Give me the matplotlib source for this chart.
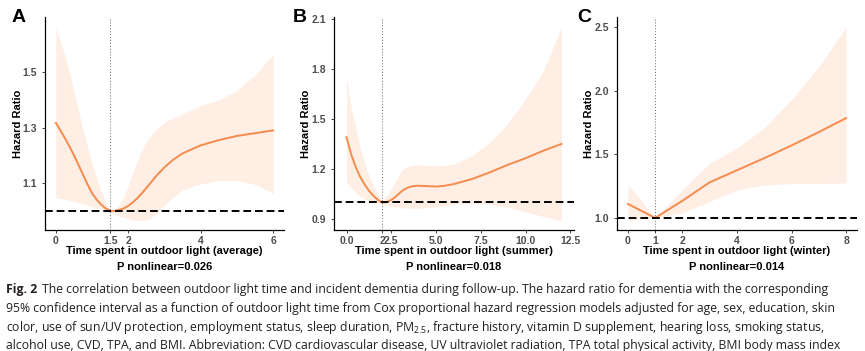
import matplotlib
matplotlib.use("Agg")
import matplotlib.pyplot as plt

plt.rcParams['font.family'] = ['Liberation Sans', 'DejaVu Sans']
plt.rcParams['mathtext.fontset'] = 'custom'
plt.rcParams['mathtext.rm'] = 'Open Sans'

# Panel A: average outdoor light time
x_avg = [0, 0.125, 0.25, 0.375, 0.5, 0.625, 0.75, 0.875, 1.0, 1.125, 1.25, 1.375, 1.5, 1.625,
         1.75, 1.875, 2.0, 2.125, 2.25, 2.375, 2.5, 2.75, 3.0, 3.25, 3.5, 4.0, 4.5, 5.0, 5.5, 6.0]
hr_avg = [1.317, 1.29, 1.262, 1.232, 1.20, 1.165, 1.13, 1.095, 1.063, 1.04, 1.022, 1.008, 1.0, 0.999,
          1.003, 1.008, 1.017, 1.03, 1.045, 1.063, 1.082, 1.122, 1.157, 1.185, 1.207, 1.236, 1.255, 1.27, 1.28, 1.29]
lo_avg = [1.047, 1.044, 1.04, 1.037, 1.033, 1.029, 1.024, 1.02, 1.015, 1.01, 1.005, 1.0, 0.995, 0.988,
          0.98, 0.975, 0.97, 0.967, 0.965, 0.964, 0.966, 0.985, 1.02, 1.05, 1.075, 1.097, 1.108, 1.108, 1.095, 1.062]
hi_avg = [1.66, 1.61, 1.56, 1.50, 1.43, 1.36, 1.29, 1.23, 1.17, 1.12, 1.07, 1.03, 1.0, 1.005,
          1.02, 1.05, 1.09, 1.14, 1.18, 1.22, 1.25, 1.29, 1.32, 1.335, 1.35, 1.38, 1.40, 1.435, 1.49, 1.565]

# Panel B: summer
x_sum = [0, 0.25, 0.5, 0.75, 1.0, 1.25, 1.5, 1.75, 2.0, 2.25, 2.5, 2.75, 3.0, 3.25, 3.5, 3.75,
         4.0, 4.5, 5.0, 5.5, 6.0, 7.0, 8.0, 9.0, 10.0, 11.0, 12.0]
hr_sum = [1.39, 1.29, 1.215, 1.155, 1.11, 1.07, 1.04, 1.015, 1.0, 1.002, 1.015, 1.035, 1.06, 1.08, 1.092, 1.098,
          1.10, 1.098, 1.095, 1.10, 1.11, 1.14, 1.18, 1.225, 1.265, 1.31, 1.35]
lo_sum = [1.124, 1.09, 1.06, 1.04, 1.02, 1.008, 1.0, 0.995, 0.99, 0.982, 0.975, 0.972, 0.97, 0.967, 0.965, 0.965,
          0.965, 0.968, 0.975, 0.982, 0.99, 0.995, 0.99, 0.97, 0.945, 0.915, 0.89]
hi_sum = [1.74, 1.58, 1.45, 1.33, 1.24, 1.16, 1.10, 1.05, 1.01, 1.04, 1.08, 1.13, 1.18, 1.205, 1.22, 1.225,
          1.225, 1.222, 1.22, 1.222, 1.23, 1.28, 1.36, 1.47, 1.62, 1.79, 2.05]

# Panel C: winter
x_win = [0, 1, 2, 3, 4, 5, 6, 7, 8]
hr_win = [1.11, 1.0, 1.135, 1.28, 1.375, 1.47, 1.57, 1.675, 1.785]
lo_win = [0.98, 1.0, 1.04, 1.13, 1.22, 1.26, 1.27, 1.27, 1.275]
hi_win = [1.265, 1.0, 1.22, 1.43, 1.55, 1.71, 1.93, 2.19, 2.5]

caption = [
    "The correlation between outdoor light time and incident dementia during follow-up. The hazard ratio for dementia with the corresponding",
    "95% confidence interval as a function of outdoor light time from Cox proportional hazard regression models adjusted for age, sex, education, skin",
    "color, use of sun/UV protection, employment status, sleep duration, PM$_{2.5}$, fracture history, vitamin D supplement, hearing loss, smoking status,",
    "alcohol use, CVD, TPA, and BMI. Abbreviation: CVD cardiovascular disease, UV ultraviolet radiation, TPA total physical activity, BMI body mass index",
]

W, H = 865, 351
LINE = '#F58B4C'
FILL = '#FEEEE4'


def draw_panel(ax, x, hr, lo, hi, ref, xlim, ylim, xticks, xlabels, yticks, xlabel, ptext):
    ax.fill_between(x, lo, hi, color=FILL, lw=0, zorder=1)
    ax.plot(x, hr, color=LINE, lw=1.4, zorder=3)
    ax.axhline(1.0, color='black', lw=1.4, dashes=(4, 2), zorder=4)
    ax.axvline(ref, color='#666666', lw=0.7, ls=(0, (1, 2)), zorder=2)
    ax.set_xlim(xlim)
    ax.set_ylim(ylim)
    ax.set_xticks(xticks)
    ax.set_xticklabels(xlabels)
    ax.set_yticks(yticks)
    for s in ['top', 'right']:
        ax.spines[s].set_visible(False)
    for s in ['left', 'bottom']:
        ax.spines[s].set_linewidth(0.9)
    ax.tick_params(length=2.5, width=0.7, color='#444444', labelcolor='#4D4D4D', labelsize=7.5)
    ax.tick_params(axis='x', pad=1.5)
    for lab in ax.get_xticklabels() + ax.get_yticklabels():
        lab.set_fontweight('bold')
    ax.text(0.5, -0.099, xlabel, transform=ax.transAxes, ha='center', va='center',
            fontsize=8, fontweight='bold')
    ax.text(0.5, -0.174, ptext, transform=ax.transAxes, ha='center', va='center',
            fontsize=8, fontweight='bold')
    ax.text(-27.5 / 239, 0.5, 'Hazard Ratio', transform=ax.transAxes, rotation=90,
            ha='center', va='center', fontsize=8, fontweight='bold')


fig = plt.figure(figsize=(W / 100, H / 100), dpi=100)
bot = 1 - 230 / H
ht = (230 - 17) / H
axA = fig.add_axes([45 / W, bot, 239 / W, ht])
axB = fig.add_axes([334 / W, bot, 240 / W, ht])
axC = fig.add_axes([617 / W, bot, 240 / W, ht])

draw_panel(axA, x_avg, hr_avg, lo_avg, hi_avg, 1.5, (-0.3, 6.3), (0.93, 1.70),
           [0, 1.5, 2, 4, 6], ['0', '1.5', '2', '4', '6'], [1.1, 1.3, 1.5],
           'Time spent in outdoor light (average)', 'P nonlinear=0.026')
draw_panel(axB, x_sum, hr_sum, lo_sum, hi_sum, 2.0, (-0.7, 12.7), (0.835, 2.11),
           [0, 2, 2.5, 5, 7.5, 10, 12.5], ['0.0', '2', '2.5', '5.0', '7.5', '10.0', '12.5'],
           [0.9, 1.2, 1.5, 1.8, 2.1],
           'Time spent in outdoor light (summer)', 'P nonlinear=0.018')
draw_panel(axC, x_win, hr_win, lo_win, hi_win, 1.0, (-0.4, 8.4), (0.905, 2.58),
           [0, 1, 2, 4, 6, 8], ['0', '1', '2', '4', '6', '8'], [1.0, 1.5, 2.0, 2.5],
           'Time spent in outdoor light (winter)', 'P nonlinear=0.014')

for letter, px in [('A', 12), ('B', 293), ('C', 577)]:
    fig.text(px / W, 1 - 22 / H, letter, fontsize=14, fontweight='bold', va='baseline')

# caption, font size fitted to the width of the last line
cap_family = ['Open Sans', 'DejaVu Sans']
fig.canvas.draw()
renderer = fig.canvas.get_renderer()
probe = fig.text(0, 0, caption[3], fontsize=10, family=cap_family)
wid = probe.get_window_extent(renderer).width
probe.remove()
fs = 10 * 834 / wid

ys = [290, 308.5, 327, 345.5]
head = fig.text(6 / W, 1 - ys[0] / H, 'Fig. 2', fontsize=fs, family=cap_family,
                fontweight='bold', va='center', color='#231F20')
bb = head.get_window_extent(renderer)
fig.text((bb.x1 + 5) / W, 1 - ys[0] / H, caption[0], fontsize=fs, family=cap_family,
         va='center', color='#231F20')
for line, y in zip(caption[1:], ys[1:]):
    fig.text(6 / W, 1 - y / H, line, fontsize=fs, family=cap_family, va='center', color='#231F20')

fig.savefig('out.png', dpi=100)
